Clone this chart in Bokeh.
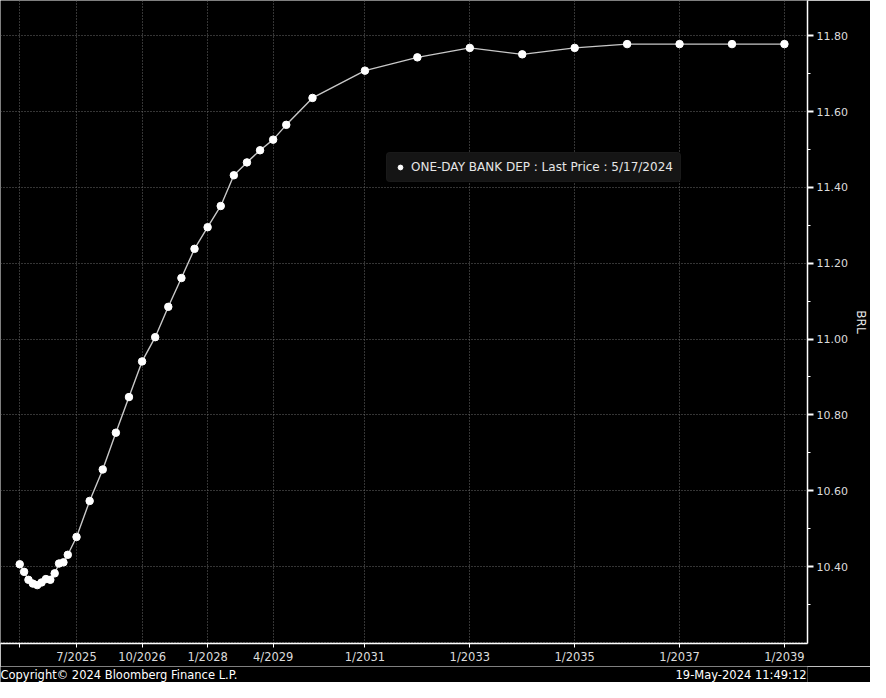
from bokeh.plotting import figure
from bokeh.models import (ColumnDataSource, LinearAxis, FixedTicker, Range1d,
                          Legend, LegendItem, Label)
from bokeh.layouts import column
from bokeh.embed import file_html
from bokeh.resources import INLINE

# ---- data ----
contracts = ["2024-06", "2024-07", "2024-08", "2024-09", "2024-10", "2024-11",
             "2024-12", "2025-01", "2025-02", "2025-03", "2025-04", "2025-05",
             "2025-07", "2025-10", "2026-01", "2026-04", "2026-07", "2026-10",
             "2027-01", "2027-04", "2027-07", "2027-10", "2028-01", "2028-04",
             "2028-07", "2028-10", "2029-01", "2029-04", "2029-07", "2030-01",
             "2031-01", "2032-01", "2033-01", "2034-01", "2035-01", "2036-01",
             "2037-01", "2038-01", "2039-01"]
rates = [10.406, 10.386, 10.365, 10.355, 10.351, 10.358,
         10.367, 10.365, 10.382, 10.408, 10.411, 10.431,
         10.478, 10.573, 10.656, 10.753, 10.847, 10.941,
         11.005, 11.085, 11.161, 11.238, 11.295, 11.351,
         11.432, 11.466, 11.498, 11.526, 11.565, 11.636,
         11.708, 11.743, 11.768, 11.751, 11.768, 11.778,
         11.778, 11.778, 11.778]

x_tick_dates = ["2024-06", "2025-07", "2026-10", "2028-01", "2029-04",
                "2031-01", "2033-01", "2035-01", "2037-01", "2039-01"]
x_tick_labels = ["", "7/2025", "10/2026", "1/2028", "4/2029",
                 "1/2031", "1/2033", "1/2035", "1/2037", "1/2039"]
y_ticks = [10.40, 10.60, 10.80, 11.00, 11.20, 11.40, 11.60, 11.80]
y_tick_labels = ["10.40", "10.60", "10.80", "11.00", "11.20", "11.40", "11.60", "11.80"]
y_minor = [10.30, 10.50, 10.70, 10.90, 11.10, 11.30, 11.50, 11.70]
y_grid = [10.20] + y_ticks

series_label = "ONE-DAY BANK DEP : Last Price : 5/17/2024"
axis_title = "BRL"
footer_left = "Copyright\u00a9 2024 Bloomberg Finance L.P."
footer_right = "19-May-2024 11:49:12"


def to_year(s):
    y, m = s.split("-")
    return int(y) + (int(m) - 1) / 12.0


xs = [to_year(c) for c in contracts]
x_ticks = [to_year(c) for c in x_tick_dates]

FONT = "DejaVu Sans"
W = 870
H_MAIN = 666
H_FOOT = 16
FW, FH = 812, 648

p = figure(width=W, height=H_MAIN, output_backend="svg", toolbar_location=None,
           x_range=Range1d(2024.05, 2039.44), y_range=Range1d(10.197, 11.893),
           y_axis_location=None, x_axis_location="below",
           min_border_left=0, min_border_top=0,
           min_border_right=W - FW, min_border_bottom=H_MAIN - FH,
           background_fill_color="black", border_fill_color="black",
           outline_line_color=None)

# x axis
xa = p.xaxis[0]
xa.ticker = FixedTicker(ticks=x_ticks, minor_ticks=[])
xa.major_label_overrides = {t: l for t, l in zip(x_ticks, x_tick_labels)}
xa.axis_line_color = "white"
xa.axis_line_width = 1.5
xa.major_tick_line_color = "white"
xa.major_tick_out = 4
xa.major_tick_in = 0
xa.minor_tick_line_color = None
xa.major_label_text_color = "#dcdcdc"
xa.major_label_text_font = FONT
xa.major_label_text_font_size = "11.5px"
xa.major_label_standoff = 2

# right y axis
ya = LinearAxis(ticker=FixedTicker(ticks=y_ticks, minor_ticks=y_minor))
ya.major_label_overrides = {t: l for t, l in zip(y_ticks, y_tick_labels)}
ya.axis_line_color = "white"
ya.axis_line_width = 1.5
ya.major_tick_line_color = "white"
ya.major_tick_line_width = 2
ya.major_tick_out = 6
ya.major_tick_in = 0
ya.minor_tick_line_color = "white"
ya.minor_tick_out = 3
ya.minor_tick_in = 0
ya.major_label_text_color = "#dcdcdc"
ya.major_label_text_font = FONT
ya.major_label_text_font_size = "11px"
ya.major_label_standoff = 3
ya.axis_label = axis_title
ya.axis_label_text_color = "#e8e8e8"
ya.axis_label_text_font = FONT
ya.axis_label_text_font_size = "12px"
ya.axis_label_text_font_style = "normal"
ya.axis_label_standoff = 3
p.add_layout(ya, "right")

# grids
p.xgrid[0].ticker = FixedTicker(ticks=x_ticks)
p.ygrid[0].ticker = FixedTicker(ticks=y_grid)
for g in (p.xgrid[0], p.ygrid[0]):
    g.grid_line_color = "#6a6a6a"
    g.grid_line_dash = "1 2"
    g.grid_line_width = 1

src = ColumnDataSource(data=dict(x=xs, y=rates))
p.line("x", "y", source=src, line_color="#c8c8c8", line_width=1.4)
sc = p.scatter("x", "y", source=src, size=7.5, fill_color="white",
               line_color="white", marker="circle")

legend = Legend(items=[LegendItem(label=series_label, renderers=[sc])],
                location=(386, FH - 187))
legend.background_fill_color = "#151515"
legend.background_fill_alpha = 1.0
legend.border_line_color = "#1e1e1e"
legend.label_text_color = "#e6e6e6"
legend.label_text_font = FONT
legend.label_text_font_size = "12px"
legend.glyph_width = 12
legend.glyph_height = 14
legend.label_height = 14
legend.label_standoff = 5
legend.padding = 7
legend.margin = 0
try:
    legend.border_radius = 4
except Exception:
    pass
p.add_layout(legend)

# footer strip
f = figure(width=W, height=H_FOOT, output_backend="svg", toolbar_location=None,
           x_range=Range1d(0, W), y_range=Range1d(0, H_FOOT),
           x_axis_location=None, y_axis_location=None,
           min_border_left=0, min_border_right=0, min_border_top=0, min_border_bottom=0,
           background_fill_color="black", border_fill_color="black",
           outline_line_color=None)
f.xgrid.visible = False
f.ygrid.visible = False
f.add_layout(Label(x=0, y=H_FOOT / 2, text=footer_left, text_color="white",
                   text_font=FONT, text_font_size="11.5px",
                   text_baseline="middle", text_align="left"))
f.add_layout(Label(x=W - 1, y=H_FOOT / 2, text=footer_right, text_color="white",
                   text_font=FONT, text_font_size="11.5px",
                   text_baseline="middle", text_align="right"))

layout = column(p, f, spacing=0)
open("out.html", "w").write(file_html(layout, INLINE))
